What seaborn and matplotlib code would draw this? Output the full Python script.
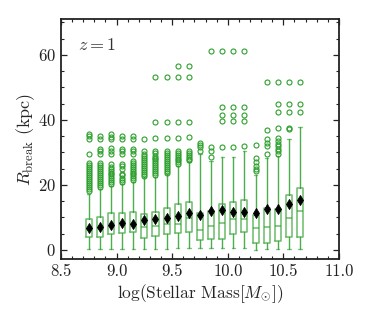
import numpy as np
import matplotlib
matplotlib.use("Agg")
import matplotlib.pyplot as plt
import seaborn as sns
from matplotlib.ticker import MultipleLocator

# Stellar mass bin centres (log M)
mass_bins = [8.75, 8.85, 8.95, 9.05, 9.15, 9.25, 9.35, 9.45, 9.55, 9.65,
             9.75, 9.85, 9.95, 10.05, 10.15, 10.25, 10.35, 10.45, 10.55, 10.65]

# Box statistics of R_break (kpc)
whis_lo = [0.4, 0.4, 0.4, 0.3, 0.4, 0.4, 0.4, 0.4, 0.5, 0.5,
           0.5, 0.5, 0.5, 0.5, 0.5, 0.1, 0.3, 0.3, 0.3, 0.3]
q1 = [4.0, 4.1, 4.8, 5.1, 5.5, 3.8, 4.3, 4.8, 5.3, 5.6,
      3.0, 3.3, 3.3, 4.8, 5.5, 2.1, 2.2, 2.8, 4.1, 4.1]
median = [6.5, 6.8, 7.4, 8.2, 8.0, 6.9, 7.4, 7.9, 7.9, 9.8,
          6.0, 7.4, 8.2, 9.4, 9.4, 6.6, 6.9, 7.4, 9.9, 12.0]
q3 = [9.4, 10.2, 11.2, 11.4, 11.7, 11.0, 11.8, 12.8, 14.1, 14.6,
      11.5, 12.0, 14.2, 14.6, 15.3, 10.7, 12.8, 12.7, 16.8, 18.9]
whis_hi = [17.3, 18.8, 19.7, 20.3, 20.9, 22.3, 22.5, 23.3, 25.8, 26.9,
           29.6, 27.4, 28.6, 28.6, 30.5, 23.0, 28.4, 29.0, 34.2, 37.8]
mean = [6.7, 6.9, 7.6, 8.4, 8.1, 9.2, 9.6, 9.9, 10.5, 11.2,
        10.8, 12.0, 12.2, 11.8, 11.8, 11.5, 12.5, 12.7, 14.0, 15.4]

# Outliers per bin
fliers = [
    [18.2, 18.8, 19.4, 20.0, 20.6, 21.2, 21.8, 22.4, 23.0, 23.6, 24.2, 24.8,
     25.4, 26.0, 26.6, 29.5, 34.2, 34.9, 35.6],
    [19.4, 20.0, 20.6, 21.2, 21.8, 22.4, 23.0, 23.6, 24.2, 24.8, 25.4, 26.0,
     26.6, 29.5, 30.3, 31.0, 34.2, 35.0],
    [20.2, 20.8, 21.4, 22.0, 22.6, 23.2, 23.8, 24.4, 25.0, 25.6, 26.4,
     29.5, 30.5, 31.2, 34.0, 34.8, 35.6],
    [20.8, 21.5, 22.2, 22.9, 23.4, 25.0, 25.8, 26.5, 29.5, 30.3, 31.0,
     34.2, 35.0],
    [21.4, 22.0, 22.6, 23.2, 23.8, 24.4, 25.0, 25.6, 26.2, 26.8, 27.4,
     29.5, 30.3, 31.0, 34.2, 35.0],
    [22.8, 23.4, 24.0, 24.6, 25.2, 25.8, 26.4, 27.0, 27.6, 28.2, 28.8,
     29.5, 30.3, 34.2],
    [23.0, 23.6, 24.2, 24.8, 25.4, 26.0, 26.6, 27.2, 27.8, 28.4, 29.0,
     29.7, 30.4, 34.3, 39.4, 53.2],
    [23.8, 24.4, 25.0, 25.6, 26.2, 26.8, 27.4, 28.0, 28.6, 29.2, 29.8,
     30.4, 34.3, 39.4, 53.2],
    [26.3, 26.9, 27.5, 28.1, 28.7, 29.3, 29.9, 30.5, 34.3, 39.4, 53.2, 56.6],
    [27.5, 28.1, 28.7, 29.3, 29.9, 30.5, 34.6, 39.4, 53.2, 56.6],
    [30.5, 31.5, 32.3, 33.0],
    [28.5, 30.5, 31.5, 61.2],
    [31.5, 39.7, 41.6, 44.0, 61.2],
    [31.5, 39.7, 41.6, 44.0, 61.2],
    [32.0, 39.7, 41.6, 44.0, 61.2],
    [24.3, 25.0, 25.8, 26.9, 28.4, 32.3],
    [29.5, 32.0, 33.0, 34.0, 37.0, 51.7],
    [29.5, 30.3, 31.0, 31.8, 32.6, 33.5, 34.3, 37.4, 42.5, 44.8, 51.7],
    [37.1, 37.6, 42.5, 44.8, 51.7],
    [42.5, 44.8, 51.7],
]

sns.set_style("ticks")
plt.rcParams["font.family"] = "serif"
plt.rcParams["font.serif"] = ["cmr10", "DejaVu Serif"]
plt.rcParams["mathtext.fontset"] = "cm"
plt.rcParams["axes.formatter.use_mathtext"] = True

green = "#2ca02c"

fig = plt.figure(figsize=(3.74, 3.2), dpi=100)
ax = fig.add_axes([0.163, 0.1906, 0.7433, 0.75])

stats = []
for i in range(len(mass_bins)):
    stats.append(dict(med=median[i], q1=q1[i], q3=q3[i],
                      whislo=whis_lo[i], whishi=whis_hi[i],
                      fliers=fliers[i], mean=mean[i]))

ax.bxp(stats, positions=mass_bins, widths=0.055, capwidths=0.03,
       manage_ticks=False, showmeans=False,
       boxprops=dict(color=green, alpha=0.7, linewidth=1.1),
       medianprops=dict(color=green, alpha=0.7, linewidth=1.1),
       whiskerprops=dict(color=green, alpha=0.85, linewidth=1.0),
       capprops=dict(color=green, alpha=0.6, linewidth=1.0),
       flierprops=dict(marker="o", markerfacecolor="none",
                       markeredgecolor=green, markersize=3.6,
                       markeredgewidth=0.8, linestyle="none"))

# mean values as black diamonds
sns.scatterplot(x=mass_bins, y=mean, marker="d", color="black",
                s=26, edgecolor="black", linewidth=0.6, ax=ax, zorder=5)

ax.set_xlim(8.5, 11.0)
ax.set_ylim(-2.8, 71)
ax.xaxis.set_major_locator(MultipleLocator(0.5))
ax.xaxis.set_minor_locator(MultipleLocator(0.1))
ax.yaxis.set_major_locator(MultipleLocator(20))
ax.yaxis.set_minor_locator(MultipleLocator(5))
ax.xaxis.set_major_formatter(matplotlib.ticker.FormatStrFormatter("%.1f"))
ax.tick_params(which="both", direction="in", top=True, right=True,
               labelsize=12, colors="#222222")
ax.tick_params(which="major", length=4.5, width=0.9)
ax.tick_params(which="minor", length=2.5, width=0.8)
for s in ax.spines.values():
    s.set_linewidth(1.3)
    s.set_color("#222222")

ax.set_xlabel(r"log(Stellar Mass$[M_{\odot}]$)", fontsize=12.5, labelpad=2)
ax.set_ylabel(r"$R_{\rm break}$ (kpc)", fontsize=13, labelpad=1)
ax.text(0.06, 0.89, r"$z=1$", transform=ax.transAxes, fontsize=13,
        ha="left", va="center", color="#333333")

plt.savefig("out.png", dpi=100, facecolor="white")
